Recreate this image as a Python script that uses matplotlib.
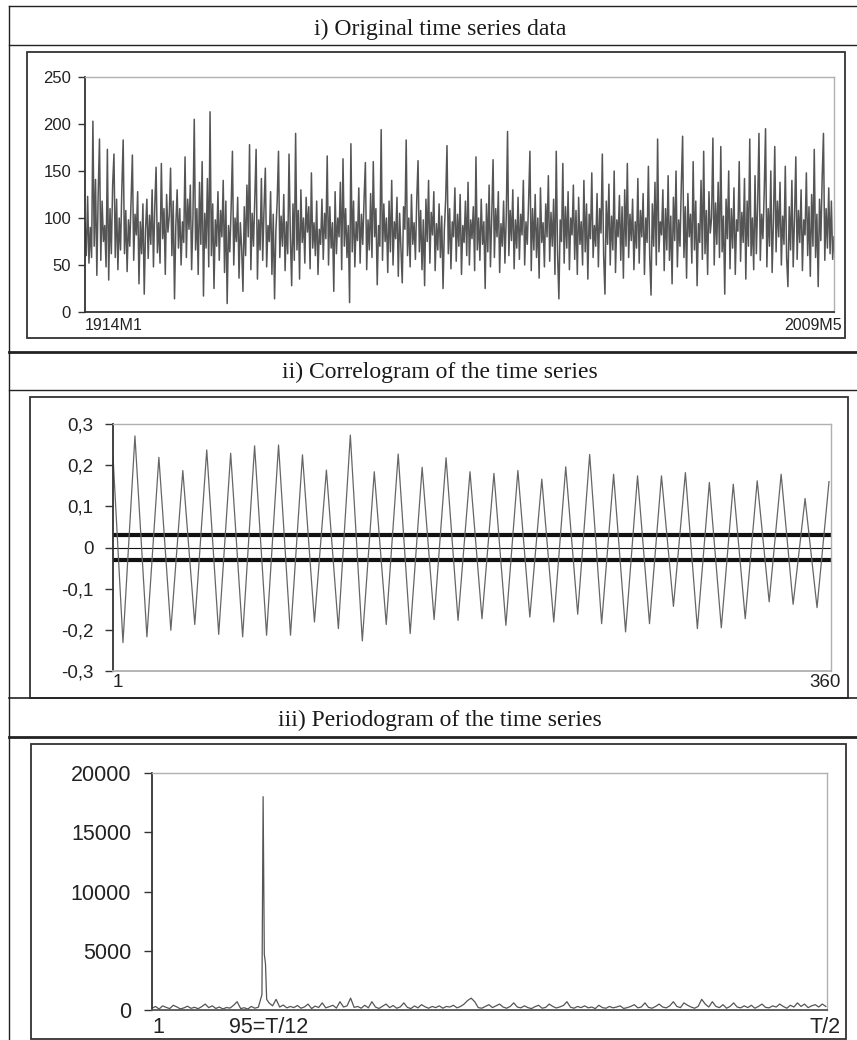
import numpy as np
import matplotlib
matplotlib.use("Agg")
import matplotlib.pyplot as plt
from matplotlib.lines import Line2D
from matplotlib.patches import Rectangle

# i) original series (sampled every ~2 months, 1914M1 .. 2009M5)
ts_values = [
    95, 60, 123, 52, 90, 58, 203, 70, 141, 39, 125, 184, 55, 118, 75, 92, 48, 173, 34, 110, 62, 135, 168, 58, 120, 45, 100, 66, 132, 183,
    62, 108, 43, 98, 70, 120, 167, 55, 104, 82, 128, 30, 96, 62, 115, 19, 88, 120, 57, 103, 72, 130, 48, 112, 154, 63, 95, 52, 158, 78,
    110, 40, 125, 85, 102, 153, 60, 118, 14, 92, 130, 68, 110, 50, 96, 74, 165, 58, 120, 88, 135, 45, 100, 205, 66, 110, 40, 138, 72, 160,
    17, 105, 68, 142, 48, 213, 60, 115, 25, 98, 70, 128, 55, 108, 80, 140, 42, 118, 9, 92, 64, 110, 171, 50, 100, 75, 122, 36, 95, 68,
    22, 112, 60, 135, 80, 178, 45, 105, 70, 120, 173, 35, 98, 66, 142, 55, 110, 153, 48, 92, 75, 128, 40, 104, 14, 86, 118, 171, 58, 102,
    70, 125, 44, 96, 62, 168, 80, 28, 115, 55, 190, 66, 108, 35, 130, 74, 100, 52, 122, 85, 112, 46, 148, 68, 95, 60, 118, 40, 88, 72,
    120, 56, 105, 78, 166, 50, 112, 68, 95, 22, 128, 62, 100, 80, 138, 45, 163, 70, 110, 58, 92, 10, 179, 64, 118, 48, 96, 76, 132, 52,
    104, 72, 120, 159, 45, 98, 66, 126, 58, 160, 80, 110, 29, 92, 70, 194, 55, 115, 75, 100, 42, 118, 64, 140, 50, 96, 78, 122, 38, 105,
    68, 31, 112, 88, 183, 60, 100, 48, 125, 72, 95, 56, 118, 161, 64, 108, 45, 98, 28, 120, 75, 140, 52, 106, 82, 128, 44, 94, 66, 115,
    58, 102, 25, 88, 120, 177, 62, 110, 46, 96, 80, 132, 54, 104, 70, 125, 40, 92, 74, 118, 60, 138, 50, 98, 78, 112, 44, 165, 66, 100,
    55, 120, 72, 96, 25, 115, 64, 135, 48, 102, 162, 58, 110, 80, 128, 42, 94, 70, 118, 52, 100, 192, 60, 108, 76, 130, 46, 98, 68, 122,
    56, 104, 82, 140, 50, 96, 72, 118, 171, 44, 110, 66, 125, 58, 100, 36, 132, 74, 95, 48, 115, 80, 145, 54, 106, 70, 120, 40, 171, 62,
    14, 98, 75, 158, 52, 112, 68, 128, 45, 100, 82, 135, 56, 108, 40, 122, 72, 96, 50, 140, 64, 115, 35, 104, 78, 148, 58, 92, 70, 126,
    48, 110, 84, 168, 60, 19, 118, 72, 136, 50, 102, 66, 150, 42, 98, 80, 124, 55, 112, 36, 130, 70, 158, 58, 104, 76, 120, 45, 96, 68,
    142, 52, 108, 80, 126, 40, 100, 74, 155, 60, 18, 115, 70, 138, 50, 184, 64, 96, 82, 130, 44, 110, 66, 145, 55, 102, 30, 122, 76, 150,
    48, 98, 70, 135, 187, 58, 112, 36, 126, 80, 104, 52, 160, 66, 118, 28, 94, 74, 140, 56, 171, 62, 108, 40, 128, 84, 100, 185, 50, 116,
    72, 138, 58, 176, 64, 102, 19, 120, 78, 150, 46, 110, 68, 132, 40, 98, 86, 160, 54, 106, 74, 142, 35, 118, 70, 184, 60, 100, 45, 145,
    62, 115, 190, 55, 104, 78, 128, 195, 48, 110, 70, 150, 42, 96, 176, 64, 118, 80, 138, 50, 102, 72, 155, 58, 27, 112, 66, 140, 48, 100,
    165, 56, 108, 74, 130, 44, 98, 82, 148, 60, 112, 38, 125, 70, 173, 58, 104, 27, 120, 76, 142, 190, 55, 110, 68, 132, 62, 118, 56, 80,
]
n_months = 1145

# ii) correlogram: peaks at lags 1, 12, 24, ... 360 and troughs at 6, 18, ... 354
peak_values = [0.222, 0.271, 0.219, 0.187, 0.237, 0.229, 0.247, 0.249, 0.225, 0.188, 0.273,
               0.184, 0.227, 0.195, 0.218, 0.184, 0.180, 0.187, 0.166, 0.196, 0.226,
               0.178, 0.174, 0.174, 0.182, 0.158, 0.154, 0.162, 0.178, 0.119, 0.160]
trough_values = [-0.231, -0.217, -0.201, -0.187, -0.211, -0.217, -0.213, -0.213, -0.181, -0.197,
                 -0.227, -0.187, -0.209, -0.175, -0.177, -0.173, -0.189, -0.169, -0.181, -0.162,
                 -0.185, -0.205, -0.185, -0.143, -0.197, -0.195, -0.173, -0.132, -0.138, -0.146]
conf_band = 0.03
acf_ticks = ["-0,3", "-0,2", "-0,1", "0", "0,1", "0,2", "0,3"]

# iii) periodogram, ordinates every 3rd frequency 1, 4, ... 571 plus the seasonal spike
pg_power = [
    150, 300, 80, 350, 220, 120, 400, 260, 90, 180, 320, 140, 230, 110, 280, 500, 200, 350, 130, 250,
    90, 210, 160, 400, 700, 120, 190, 80, 300, 150, 240, 1300, 3900, 600, 350, 900, 250, 420, 180, 300,
    200, 380, 150, 260, 500, 120, 330, 210, 600, 180, 280, 400, 160, 700, 250, 350, 1000, 220, 300, 150,
    400, 180, 700, 250, 130, 320, 500, 200, 380, 150, 260, 600, 220, 120, 340, 180, 450, 270, 150, 300,
    200, 350, 150, 300, 250, 400, 180, 300, 500, 800, 1000, 700, 200, 150, 300, 450, 200, 350, 500, 250,
    150, 300, 600, 250, 180, 350, 200, 120, 280, 400, 150, 220, 500, 300, 170, 260, 380, 700, 240, 150,
    300, 200, 350, 180, 250, 120, 400, 200, 150, 300, 180, 250, 350, 130, 200, 300, 450, 180, 260, 600,
    220, 150, 300, 500, 250, 180, 350, 700, 300, 200, 600, 400, 250, 150, 300, 900, 500, 250, 700, 300,
    200, 450, 150, 300, 600, 250, 180, 350, 200, 400, 150, 300, 500, 220, 180, 350, 250, 500, 300, 150,
    400, 250, 600, 300, 500, 200, 350, 450, 250, 500, 300,
]
spike_freq = [95, 96, 98]
spike_power = [18000, 4700, 900]
half_T = 572

W, H = 857, 1040
plt.rcParams['font.family'] = ['Liberation Sans', 'DejaVu Sans']
fig = plt.figure(figsize=(W / 100, H / 100), dpi=100)


def box(l, t, r, b):
    return [l / W, 1 - b / H, (r - l) / W, (b - t) / H]


def hline(y, x0, x1, lw):
    fig.add_artist(Line2D([x0 / W, x1 / W], [1 - y / H, 1 - y / H], transform=fig.transFigure,
                          color='#222222', lw=lw))


# table grid
for y, lw in [(6, 1.0), (45, 1.0), (352, 2.0), (390, 1.0), (697.5, 1.2), (737, 2.0)]:
    hline(y, 9, W, lw)
fig.add_artist(Line2D([9 / W, 9 / W], [1 - 6 / H, 0], transform=fig.transFigure, color='#222222', lw=1.0))

# chart frames
for l, t, r, b in [(27, 52, 845, 338), (30, 397, 848, 698), (31, 744, 846, 1039)]:
    fig.add_artist(Rectangle((l / W, 1 - b / H), (r - l) / W, (b - t) / H, transform=fig.transFigure,
                             fill=False, edgecolor='#333333', lw=1.3))

titles = ["i) Original time series data", "ii) Correlogram of the time series",
          "iii) Periodogram of the time series"]
for ty, title in zip([29, 372, 720], titles):
    fig.text(440 / W, 1 - ty / H, title, ha='center', va='center', fontsize=17,
             family=['Liberation Serif', 'DejaVu Serif'], color='#1a1a1a')


def style(ax, bottom_color, size, pad, length):
    for side in ['top', 'right']:
        ax.spines[side].set_color('#b0b0b0')
        ax.spines[side].set_linewidth(1.0)
    ax.spines['left'].set_color('#333333')
    ax.spines['left'].set_linewidth(1.3)
    ax.spines['bottom'].set_color(bottom_color)
    ax.spines['bottom'].set_linewidth(1.3)
    ax.tick_params(axis='y', direction='out', length=length, width=1.0, color='#333333',
                   labelsize=size, pad=pad, labelcolor='#222222')
    ax.set_xticks([])


def end_labels(ax, x0, x1, lab0, lab1, size, dy, dx1):
    ax.annotate(lab0, xy=(x0, 0), xycoords=('data', 'axes fraction'), xytext=(0, -dy),
                textcoords='offset points', ha='left', va='top', fontsize=size, color='#222222')
    ax.annotate(lab1, xy=(x1, 0), xycoords=('data', 'axes fraction'), xytext=(dx1, -dy),
                textcoords='offset points', ha='right', va='top', fontsize=size, color='#222222')


# panel i
ax1 = fig.add_axes(box(85, 77, 834, 312))
ts_x = np.linspace(1, n_months, len(ts_values))
ax1.plot(ts_x, ts_values, color='#555555', lw=1.1)
ax1.set_xlim(1, n_months)
ax1.set_ylim(0, 250)
ax1.set_yticks(range(0, 251, 50))
style(ax1, '#333333', 12, 5, 5)
end_labels(ax1, 1, n_months, "1914M1", "2009M5", 11.5, 4.5, 6)

# panel ii
ax2 = fig.add_axes(box(113, 424, 831, 671))
acf_lag = [1] + [lag for k in range(1, 31) for lag in (12 * k - 6, 12 * k)]
acf_val = [peak_values[0]] + [v for k in range(30) for v in (trough_values[k], peak_values[k + 1])]
ax2.axhline(0, color='#111111', lw=0.8)
ax2.axhline(conf_band, color='#111111', lw=3.0)
ax2.axhline(-conf_band, color='#111111', lw=3.0)
ax2.plot(acf_lag, acf_val, color='#666666', lw=0.9)
ax2.set_xlim(1, 361)
ax2.set_ylim(-0.3, 0.3)
ax2.set_yticks(np.linspace(-0.3, 0.3, 7))
ax2.set_yticklabels(acf_ticks)
style(ax2, '#b0b0b0', 13.5, 8, 6)
end_labels(ax2, 1, 361, "1", "360", 13.5, 2, 7)

# panel iii
ax3 = fig.add_axes(box(152, 773, 827, 1010))
pg_freq = list(np.arange(1, half_T, 3)) + spike_freq
pg_all = pg_power + spike_power
order = np.argsort(pg_freq)
ax3.plot(np.array(pg_freq)[order], np.array(pg_all)[order], color='#555555', lw=0.9)
ax3.set_xlim(1, half_T)
ax3.set_ylim(0, 20000)
ax3.set_yticks(range(0, 20001, 5000))
style(ax3, '#555555', 15.5, 9, 6)
end_labels(ax3, 1, half_T, "1", "T/2", 15.5, 5, 10)
ax3.annotate("95=T/12", xy=(100, 0), xycoords=('data', 'axes fraction'), xytext=(0, -5),
             textcoords='offset points', ha='center', va='top', fontsize=15.5, color='#222222')

fig.savefig("out.png", dpi=100)
